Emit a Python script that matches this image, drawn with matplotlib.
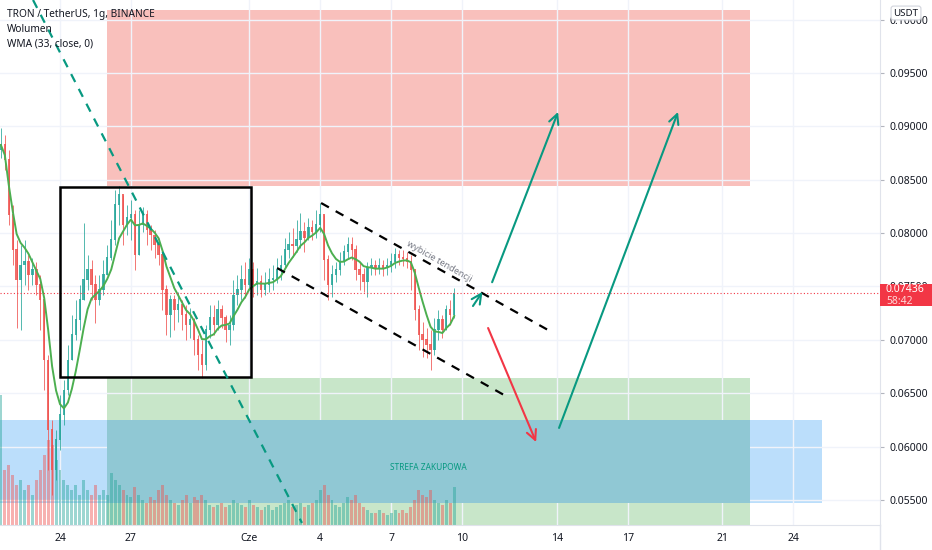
import numpy as np
import matplotlib
matplotlib.use('Agg')
import matplotlib.pyplot as plt
from matplotlib.patches import Rectangle
from matplotlib.lines import Line2D

plt.rcParams['font.family'] = ['Noto Sans', 'DejaVu Sans']

# 4h candles, x = days counted from 24 May (tick "24")
t_start = -2.5
step = 4 / 24

first_open = 0.08780
close = [0.08826, 0.08685, 0.08170, 0.07842, 0.07561, 0.07701, 0.07730, 0.07608, 0.07655, 0.07514,
         0.07374, 0.06811, 0.06156, 0.05781, 0.06062, 0.06296, 0.06530, 0.06811, 0.07046, 0.07186,
         0.07374, 0.07561, 0.07655, 0.07514, 0.07374, 0.07467, 0.07608, 0.07767, 0.07936, 0.08264,
         0.08357, 0.08076, 0.08142, 0.08170, 0.07795, 0.08076, 0.08170, 0.08029, 0.07982, 0.07889,
         0.07795, 0.07467, 0.07233, 0.07374, 0.07280, 0.07327, 0.07233, 0.07139, 0.07186, 0.06999,
         0.06858, 0.06765, 0.07093, 0.07205, 0.07139, 0.07280, 0.07205, 0.07093, 0.07139, 0.07420,
         0.07467, 0.07561, 0.07514, 0.07655, 0.07514, 0.07542, 0.07467, 0.07514, 0.07561, 0.07570,
         0.07655, 0.07701, 0.07842, 0.07889, 0.07880, 0.07936, 0.08011, 0.07954, 0.08048, 0.08011,
         0.08076, 0.08170, 0.07748, 0.07514, 0.07608, 0.07655, 0.07730, 0.07823, 0.07889, 0.07842,
         0.07655, 0.07608, 0.07542, 0.07673, 0.07701, 0.07673, 0.07701, 0.07673, 0.07701, 0.07730,
         0.07795, 0.07767, 0.07760, 0.07730, 0.07655, 0.07280, 0.07046, 0.06999, 0.06952, 0.06905,
         0.07093, 0.07186, 0.07093, 0.07280, 0.07233, 0.07436]
high = [0.08985, 0.08919, 0.08779, 0.08264, 0.07936, 0.07889, 0.07936, 0.07795, 0.07767, 0.07730,
        0.07608, 0.07374, 0.06858, 0.06249, 0.06156, 0.06484, 0.06624, 0.06952, 0.07233, 0.07374,
        0.07514, 0.08095, 0.07795, 0.07748, 0.07608, 0.07608, 0.07748, 0.07889, 0.08123, 0.08404,
        0.08441, 0.08310, 0.08264, 0.08310, 0.08217, 0.08217, 0.08245, 0.08217, 0.08076, 0.08029,
        0.07954, 0.07842, 0.07514, 0.07420, 0.07420, 0.07448, 0.07374, 0.07327, 0.07299, 0.07205,
        0.07046, 0.06999, 0.07139, 0.07327, 0.07327, 0.07374, 0.07327, 0.07233, 0.07233, 0.07561,
        0.07608, 0.07701, 0.07730, 0.07767, 0.07730, 0.07673, 0.07608, 0.07636, 0.07673, 0.07701,
        0.07767, 0.07795, 0.07954, 0.08011, 0.08048, 0.08123, 0.08189, 0.08104, 0.08142, 0.08123,
        0.08217, 0.08282, 0.08170, 0.07795, 0.07701, 0.07730, 0.07823, 0.07889, 0.07964, 0.07964,
        0.07889, 0.07730, 0.07673, 0.07730, 0.07767, 0.07748, 0.07767, 0.07748, 0.07767, 0.07814,
        0.07861, 0.07842, 0.07842, 0.07823, 0.07795, 0.07655, 0.07327, 0.07167, 0.07111, 0.07093,
        0.07205, 0.07280, 0.07233, 0.07327, 0.07374, 0.07486]
low = [0.08704, 0.08591, 0.08076, 0.07701, 0.07111, 0.07093, 0.07514, 0.07467, 0.07514, 0.07420,
       0.07093, 0.06530, 0.05781, 0.05547, 0.05688, 0.05968, 0.06202, 0.06484, 0.06905, 0.06999,
       0.07093, 0.07374, 0.07467, 0.07374, 0.07158, 0.07327, 0.07420, 0.07608, 0.07748, 0.07889,
       0.08076, 0.07889, 0.07982, 0.07936, 0.07655, 0.07889, 0.08011, 0.07889, 0.07842, 0.07767,
       0.07701, 0.07280, 0.07046, 0.07027, 0.07093, 0.07167, 0.07093, 0.06999, 0.07018, 0.06858,
       0.06718, 0.06643, 0.06718, 0.07018, 0.07046, 0.07093, 0.07111, 0.06980, 0.06952, 0.07093,
       0.07327, 0.07374, 0.07392, 0.07467, 0.07402, 0.07420, 0.07402, 0.07420, 0.07448, 0.07467,
       0.07533, 0.07561, 0.07673, 0.07767, 0.07776, 0.07823, 0.07861, 0.07823, 0.07936, 0.07936,
       0.07954, 0.08011, 0.07561, 0.07374, 0.07402, 0.07542, 0.07608, 0.07701, 0.07767, 0.07748,
       0.07561, 0.07467, 0.07448, 0.07402, 0.07608, 0.07608, 0.07617, 0.07598, 0.07608, 0.07636,
       0.07673, 0.07701, 0.07692, 0.07673, 0.07467, 0.07186, 0.06905, 0.06840, 0.06830, 0.06718,
       0.06858, 0.06999, 0.07018, 0.07093, 0.07139, 0.07205]
volume = [130, 55, 60, 50, 40, 45, 35, 40, 30, 45, 55, 70, 85, 80, 65, 55, 45, 40, 35, 40,
          30, 45, 35, 30, 40, 30, 35, 30, 52, 45, 40, 35, 30, 28, 38, 30, 25, 22, 28, 25,
          35, 40, 30, 25, 22, 20, 25, 30, 22, 28, 25, 30, 25, 20, 18, 20, 22, 18, 20, 25,
          22, 20, 18, 25, 20, 18, 15, 18, 20, 15, 18, 20, 22, 25, 18, 20, 22, 18, 20, 22,
          25, 35, 40, 30, 25, 20, 18, 22, 28, 25, 30, 22, 18, 15, 12, 12, 15, 12, 10, 12,
          15, 12, 15, 12, 18, 25, 35, 30, 28, 35, 25, 22, 20, 25, 22, 38]
wma_period = 8
last_price = 0.07436

# drawings (day from 24 May, price)
sell_zone = (1.99, 29.18, 0.08441, 0.10090)
buy_zone = (1.99, 29.18, 0.05200, 0.06643)
blue_zone = (-2.54, 32.22, 0.05472, 0.06249)
box = (0.0, 8.08, 0.06652, 0.08432)
trend_line = [(-1.14, 0.10184), (10.23, 0.05285)]
channel_top = [(11.04, 0.08282), (20.63, 0.07093)]
channel_bottom = [(9.18, 0.07673), (18.77, 0.06484)]
arrows_up = [[(17.46, 0.07317), (17.86, 0.07450)],
             [(18.27, 0.07540), (21.06, 0.09135)],
             [(21.10, 0.06175), (26.13, 0.09135)]]
arrow_down = [(18.10, 0.07111), (20.13, 0.06043)]

day_ticks = [0, 3, 8, 11, 14, 17, 21, 24, 28, 31]
day_labels = ['24', '27', 'Cze', '4', '7', '10', '14', '17', '21', '24']
price_ticks = [0.055, 0.060, 0.065, 0.070, 0.075, 0.080, 0.085, 0.090, 0.095, 0.100]

up_col = '#26a69a'
down_col = '#ef5350'
teal = '#089981'

close = np.array(close)
high = np.array(high)
low = np.array(low)
volume = np.array(volume, dtype=float)
open_ = np.concatenate([[first_open], close[:-1]])
high = np.maximum(high, np.maximum(open_, close))
low = np.minimum(low, np.minimum(open_, close))
t = t_start + step * np.arange(len(close))
up = close >= open_

fig = plt.figure(figsize=(9.32, 5.5), dpi=100)
ax = fig.add_axes([0, 25 / 550, 880 / 932, 525 / 550])
ymin, ymax = 0.052658, 0.101838
ax.set_xlim(-2.537, 34.67)
ax.set_ylim(ymin, ymax)

# zones
def zone(z, col, zo=0.5):
    ax.add_patch(Rectangle((z[0], z[2]), z[1] - z[0], z[3] - z[2], fc=col, ec='none', zorder=zo))

zone(sell_zone, '#f9c0bc')
zone(buy_zone, '#c8e6c9')
zone(blue_zone, '#bbdefb')
zone((buy_zone[0], buy_zone[1], blue_zone[2], blue_zone[3]), '#90c8d4', 0.6)

# volume
vscale = (ymax - ymin) / (volume.max() * 4.04)
ax.bar(t, volume * vscale, width=step * 0.75, bottom=ymin,
       color=np.where(up, up_col, down_col), alpha=0.45, zorder=1)

# candles
cols = np.where(up, up_col, down_col)
ax.vlines(t, low, high, colors=cols, lw=0.7, alpha=0.8, zorder=3)
ax.bar(t, np.abs(close - open_) + 0.00005, width=step * 0.6, bottom=np.minimum(open_, close),
       color=cols, alpha=0.85, zorder=3)

# WMA
wma = []
for i in range(len(close)):
    k = min(wma_period, i + 1)
    w = np.arange(1, k + 1)
    wma.append(np.sum(w * close[i - k + 1:i + 1]) / w.sum())
ax.plot(t, wma, color='#4caf50', lw=1.4, zorder=4)

# last price line
ax.axhline(last_price, color='#f23645', lw=0.8, ls=(0, (1, 2)), zorder=4)

# drawings
ax.add_patch(Rectangle((box[0], box[2]), box[1] - box[0], box[3] - box[2], fill=False,
                       ec='black', lw=1.8, zorder=5))
xs, ys = zip(*trend_line)
ax.plot(xs, ys, color=teal, lw=1.6, ls=(0, (4, 3.5)), zorder=5)
for ch in (channel_top, channel_bottom):
    xs, ys = zip(*ch)
    ax.plot(xs, ys, color='black', lw=1.6, ls=(0, (4, 3.5)), zorder=5)

for tail, head in arrows_up:
    ax.annotate('', xy=head, xytext=tail,
                arrowprops=dict(arrowstyle='->,head_length=0.7,head_width=0.35', color=teal,
                                lw=1.5, shrinkA=0, shrinkB=0), zorder=6)
ax.annotate('', xy=arrow_down[1], xytext=arrow_down[0],
            arrowprops=dict(arrowstyle='->,head_length=0.7,head_width=0.35', color='#f23645',
                            lw=1.5, shrinkA=0, shrinkB=0), zorder=6)

ax.text(16.03, 0.0773, 'wybicie tendencji', fontsize=6.5, color='#787b86', rotation=-30,
        ha='center', va='center', rotation_mode='anchor', zorder=6)
ax.text(15.56, 0.05809, 'STREFA ZAKUPOWA', fontsize=6, color=teal, ha='center', va='center', zorder=6)

# axes styling
ax.set_xticks(day_ticks)
ax.set_xticklabels(day_labels)
ax.yaxis.tick_right()
ax.set_yticks(price_ticks)
ax.set_yticklabels(['%.5f' % p for p in price_ticks])
ax.tick_params(axis='x', length=0, labelsize=7.5, labelcolor='#131722', pad=6)
ax.tick_params(axis='y', length=3, color='#b2b5be', labelsize=7.5, labelcolor='#131722', pad=4)
ax.grid(True, color='#f0f3fa', lw=1)
ax.set_axisbelow(True)
for s in ('top', 'left'):
    ax.spines[s].set_visible(False)
ax.spines['right'].set_color('#e0e3eb')
ax.spines['bottom'].set_color('#e0e3eb')
fig.add_artist(Line2D([880 / 932, 880 / 932], [0, 25 / 550], color='#e0e3eb', lw=1))

# header
fig.text(7 / 932, 1 - 14 / 550, 'TRON / TetherUS, 1g, BINANCE', fontsize=7.3, fontweight='bold',
         color='#131722', va='center')
fig.text(7 / 932, 1 - 29 / 550, 'Wolumen', fontsize=7.3, color='#131722', va='center')
fig.text(7 / 932, 1 - 44 / 550, 'WMA (33, close, 0)', fontsize=7.3, color='#131722', va='center')

# right scale extras
fig.text(906 / 932, 1 - 13 / 550, 'USDT', fontsize=7, color='#131722', ha='center', va='center',
         bbox=dict(boxstyle='round,pad=0.25', fc='white', ec='#d1d4dc', lw=0.8))
fig.add_artist(Rectangle((880 / 932, 1 - 306 / 550), 52 / 932, 22 / 550, fc='#f23645', ec='none',
                         transform=fig.transFigure))
fig.text(886 / 932, 1 - 289 / 550, '%.5f' % last_price, fontsize=7.5, fontweight='bold',
         color='white', va='center')
fig.text(886 / 932, 1 - 301 / 550, '58:42', fontsize=7.5, color='#ffd6d6', va='center')

fig.savefig('out.png', dpi=100)
